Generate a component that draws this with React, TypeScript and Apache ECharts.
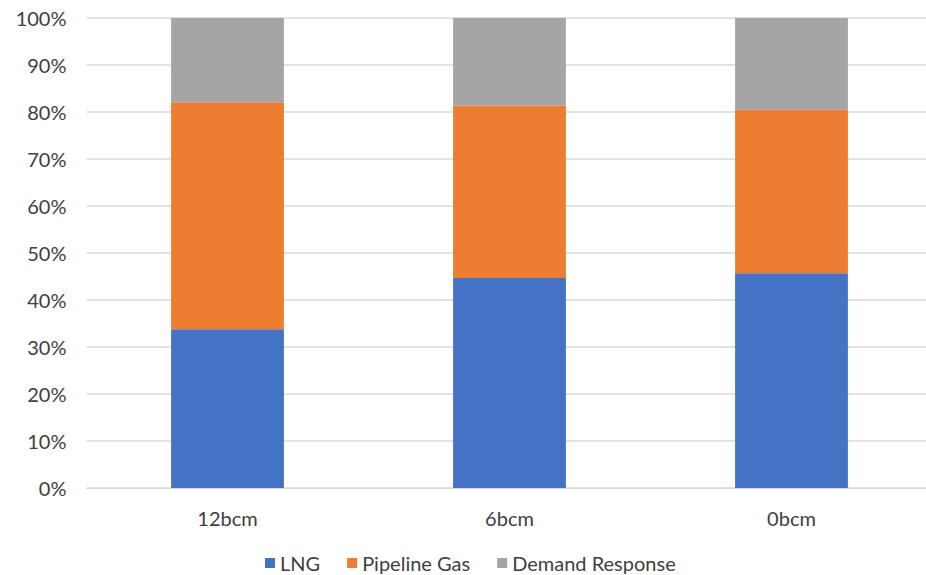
import * as echarts from 'echarts';
import { useEffect, useRef } from 'react';

const categories = ['12bcm', '6bcm', '0bcm'];
const lngValues = [33.8, 44.7, 45.7];
const pipelineValues = [48.3, 36.7, 34.8];
const demandValues = [17.9, 18.6, 19.5];
const seriesNames = ['LNG', 'Pipeline Gas', 'Demand Response'];
const colors = ['#4472C4', '#ED7D31', '#A5A5A5'];

const FONT = 'Lato';

const App: React.FC = () => {
  const chartRef = useRef<HTMLDivElement>(null);

  useEffect(() => {
    if (!chartRef.current) return;
    const mychart = echarts.init(chartRef.current, undefined, { renderer: 'svg' });

    const values = [lngValues, pipelineValues, demandValues];
    const option = {
      animation: false,
      backgroundColor: '#ffffff',
      color: colors,
      textStyle: { fontFamily: FONT },
      // the plot area runs a little past the right edge of the picture
      grid: {
        left: 86.5,
        right: 7.5,
        top: 18,
        bottom: 87,
        containLabel: false,
      },
      legend: {
        data: seriesNames,
        left: 265,
        top: 553,
        padding: 0,
        icon: 'rect',
        itemWidth: 10,
        itemHeight: 10,
        itemGap: 27,
        textStyle: { fontFamily: FONT, fontSize: 20, lineHeight: 20, color: '#404040' },
      },
      xAxis: {
        type: 'category',
        data: categories,
        axisLine: { show: true, lineStyle: { color: '#D9D9D9', width: 1 } },
        axisTick: { show: false },
        axisLabel: { fontFamily: FONT, fontSize: 20, color: '#404040', margin: 20 },
      },
      yAxis: {
        type: 'value',
        min: 0,
        max: 100,
        interval: 10,
        axisLine: { show: false },
        axisTick: { show: false },
        splitLine: { lineStyle: { color: '#D9D9D9', width: 1.5 } },
        axisLabel: {
          formatter: '{value}%',
          fontFamily: FONT,
          fontSize: 20,
          color: '#404040',
          margin: 20,
        },
      },
      series: seriesNames.map((name, i) => ({
        name,
        type: 'bar',
        stack: 'total',
        barWidth: '40%',
        data: values[i],
        itemStyle: { color: colors[i] },
      })),
    };
    mychart.setOption(option as any);

    const handleResize = () => {
      mychart.resize();
    };
    window.addEventListener('resize', handleResize);

    return () => {
      window.removeEventListener('resize', handleResize);
      if (!mychart.isDisposed()) {
        mychart.dispose();
      }
    };
  }, []);

  return (
    <div
      style={{
        position: 'fixed',
        left: 0,
        top: 0,
        width: '926px',
        height: '575px',
        overflow: 'hidden',
        background: '#fff',
      }}
    >
      <div ref={chartRef} style={{ width: '940px', height: '575px' }}></div>
    </div>
  );
};

export default App;
